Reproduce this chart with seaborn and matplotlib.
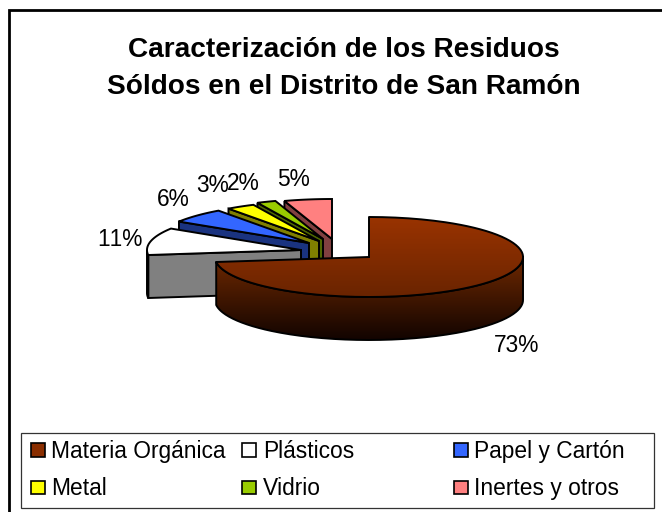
import numpy as np
import matplotlib
matplotlib.use("Agg")
import matplotlib.pyplot as plt
from matplotlib.patches import Polygon, Patch, Rectangle
from matplotlib.legend_handler import HandlerPatch
import seaborn as sns

# --- data ---
categories = ["Materia Orgánica", "Plásticos", "Papel y Cartón", "Metal", "Vidrio", "Inertes y otros"]
percent = [73, 11, 6, 3, 2, 5]
title_lines = ["Caracterización de los Residuos", "Sóldos en el Distrito de San Ramón"]

# --- style ---
top_colors = ["#8a2e00", "#ffffff", "#3366ff", "#ffff00", "#99cc00", "#ff8080"]
wall_colors = ["#4a1a00", "#808080", "#1a3380", "#808000", "#4d6600", "#804040"]
slice_shift = [(0, 0), (-68, -7), (-60, -14), (-50, -16), (-46, -18), (-37, -18)]
label_pos = [(517, 346), (120, 240), (173, 199), (213, 186), (243, 183), (293, 180)]
CX, CY, RX, RY, DEPTH = 369, 257, 154, 40, 43

sns.set_theme(style="white")
plt.rcParams["font.family"] = ["Liberation Sans", "DejaVu Sans"]
plt.rcParams["text.color"] = "black"
plt.rcParams["text.kerning_factor"] = 6

fig = plt.figure(figsize=(6.62, 5.12), dpi=100, facecolor="white")
ax = fig.add_axes([0, 0, 1, 1])
ax.set_xlim(0, 662)
ax.set_ylim(512, 0)
ax.axis("off")
palette = sns.color_palette(top_colors)
walls = sns.color_palette(wall_colors)

LW = 1.4
# chart frame (only top and left edges fall inside the picture)
ax.plot([9, 9, 662], [512, 10, 10], color="black", lw=2.0, solid_joinstyle="miter")


def rim(cx, cy, a):
    a = np.radians(a)
    return np.column_stack([cx + RX * np.sin(a), cy - RY * np.cos(a)])


def gradient_fill(poly, c0, c1, y0, y1, z):
    ax.add_patch(poly)
    n = 64
    c0, c1 = np.array(matplotlib.colors.to_rgb(c0)), np.array(matplotlib.colors.to_rgb(c1))
    t = np.linspace(0, 1, n)[:, None, None]
    img = c0[None, None, :] * (1 - t) + c1[None, None, :] * t
    xy = poly.get_xy()
    im = ax.imshow(img, extent=(xy[:, 0].min(), xy[:, 0].max(), y1, y0), aspect="auto", zorder=z)
    im.set_clip_path(poly)
    ax.plot(xy[:, 0], xy[:, 1], color="black", lw=LW, zorder=z + 0.1, solid_joinstyle="round")


fractions = np.array(percent) / sum(percent) * 360
ends = np.cumsum(fractions)
starts = ends - fractions

# painter's order: back slices first, the large slice last
for i in range(len(percent) - 1, -1, -1):
    cx, cy = CX + slice_shift[i][0], CY + slice_shift[i][1]
    a0, a1 = starts[i], ends[i]
    z = 10 + (len(percent) - i) * 3
    arc = rim(cx, cy, np.linspace(a0, a1, 160))
    top = np.vstack([[cx, cy], arc])
    if i > 0:
        p0 = rim(cx, cy, np.array([a0]))[0]
        face = [p0, (cx, cy), (cx, cy + DEPTH), (p0[0], p0[1] + DEPTH)]
        ax.add_patch(Polygon(face, closed=True, fc=walls[i], ec="black", lw=LW, zorder=z))
        lo, hi = max(a0, 90), min(a1, 270)
        if hi > lo:
            side_arc = rim(cx, cy, np.linspace(lo, hi, 20))
            side = np.vstack([side_arc, side_arc[::-1] + [0, DEPTH]])
            ax.add_patch(Polygon(side, closed=True, fc=walls[i], ec="black", lw=LW, zorder=z))
        ax.add_patch(Polygon(top, closed=True, fc=palette[i], ec="black", lw=LW, zorder=z + 1))
    else:
        side_arc = rim(cx, cy, np.linspace(max(a0, 90), min(a1, 270), 160))
        side = np.vstack([side_arc, side_arc[::-1] + [0, DEPTH]])
        gradient_fill(Polygon(side, closed=True, fc="none", ec="none", zorder=z), "#6e2800", "#120400",
                      cy, cy + RY + DEPTH, z)
        gradient_fill(Polygon(top, closed=True, fc="none", ec="none", zorder=z + 1), "#993300", "#6a2400",
                      cy - RY, cy + RY, z + 1)

for pct, (x, y) in zip(percent, label_pos):
    ax.text(x, y, f"{pct}%", ha="center", va="center", fontsize=16.4, color="black", zorder=40)

for line, y in zip(title_lines, [50, 87]):
    ax.text(344, y, line, ha="center", va="center", fontsize=20.2, fontweight="bold", color="black", zorder=40)

SWATCH = 0.6


def swatch(legend, orig_handle, xdescent, ydescent, width, height, fontsize):
    s = SWATCH * fontsize
    return Rectangle((width - s - xdescent, -ydescent + (height - s) / 2), s, s)


handles = [Patch(facecolor=c, edgecolor="black", linewidth=1.2) for c in top_colors]
order = [0, 3, 1, 4, 2, 5]  # rows read left to right
leg = ax.legend([handles[k] for k in order], [categories[k] for k in order], ncols=3,
                loc="lower left", bbox_to_anchor=(21, 508), bbox_transform=ax.transData,
                fontsize=16.4, labelcolor="black", frameon=True, fancybox=False, framealpha=1,
                edgecolor="#333333", handlelength=0.705, handleheight=0.6, handletextpad=0.3,
                labelspacing=0.62, columnspacing=0, borderpad=0.33, borderaxespad=0,
                handler_map={Patch: HandlerPatch(patch_func=swatch)})
leg.get_frame().set_linewidth(0.9)
leg.set_zorder(50)
for col, w in zip(leg._legend_handle_box.get_children(), [211.5, 211.5, 195]):
    col.align = "left"
    col.width = w

fig.savefig("out.png", dpi=100, facecolor="white")
